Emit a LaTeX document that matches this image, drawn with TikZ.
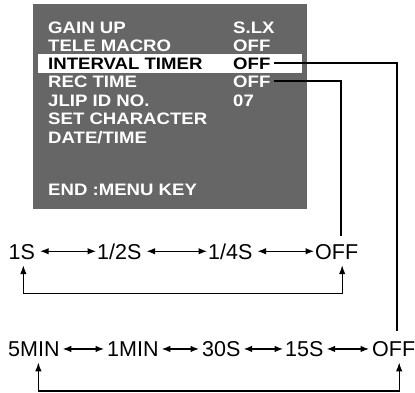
\documentclass[tikz,border=0pt]{standalone}
\usepackage{fontspec}
\setmainfont{Liberation Sans}
\newfontfamily\menufont[FakeStretch=1.12]{Liberation Sans Bold}
\usetikzlibrary{arrows.meta}
\definecolor{menugray}{RGB}{102,102,102}
\begin{document}
\begin{tikzpicture}[x=1pt,y=-1pt,
  menu/.style={anchor=base west,inner sep=0pt,text height=12pt,text depth=0pt,
    font=\menufont\fontsize{16.6}{18}\selectfont,text=white},
  hl/.style={menu,text=black},
  val/.style={anchor=base west,inner sep=0pt,text height=15.5pt,text depth=0pt,
    font=\fontsize{21.5}{24}\selectfont},
  dbl/.style={{Latex[length=8.5pt,width=6.5pt]}-{Latex[length=8.5pt,width=6.5pt]},line width=1.1pt},
  loopar/.style={{Latex[length=9pt,width=6.5pt]}-{Latex[length=9pt,width=6.5pt]},line width=1.2pt},
  conn/.style={line width=1.8pt}]
\useasboundingbox (0,0) rectangle (415,392);
% menu screen
\fill[menugray] (33,4) rectangle (307,209);
\fill[white] (38,54) rectangle (302,73);
\node[menu] (l1) at (48,33.3) {GAIN UP};
\node[menu] (v1) at (233,33.3) {S.LX};
\node[menu] (l2) at (48,51) {TELE MACRO};
\node[menu] (v2) at (233,51) {OFF};
\node[hl] (l3) at (48,69) {INTERVAL TIMER};
\node[hl] (vint) at (233,69) {OFF};
\node[menu] (l4) at (48,87.3) {REC TIME};
\node[menu] (vrec) at (233,87.3) {OFF};
\node[menu] (l5) at (48,106) {JLIP ID NO.};
\node[menu] (v5) at (233,106) {07};
\node[menu] (l6) at (48,124) {SET CHARACTER};
\node[menu] (l7) at (48,143.3) {DATE/TIME};
\node[menu] (l8) at (48,195.7) {END :MENU KEY};
% top row
\node[val] (s1) at (8.5,259) {1S};
\node[val] (s2) at (97,259) {1/2S};
\node[val] (s4) at (208,259) {1/4S};
\node[val] (o1) at (315,259) {OFF};
\draw[dbl] ([xshift=5pt]s1.east) -- ([xshift=-1pt]s2.west);
\draw[dbl] ([xshift=5pt]s2.east) -- ([xshift=-1pt]s4.west);
\draw[dbl] ([xshift=5pt]s4.east) -- ([xshift=-1pt]o1.west);
\draw[loopar] ([xshift=1.5pt,yshift=-6pt]s1.south) -- ++(0,-28pt) -| ([xshift=5.5pt,yshift=-6pt]o1.south);
% bottom row
\node[val] (m5) at (8,356.7) {5MIN};
\node[val] (m1) at (107,356.7) {1MIN};
\node[val] (s30) at (202,356.7) {30S};
\node[val] (s15) at (285,356.7) {15S};
\node[val] (o2) at (372,356.7) {OFF};
\draw[dbl] ([xshift=3pt]m5.east) -- ([xshift=-3pt]m1.west);
\draw[dbl] ([xshift=3pt]m1.east) -- ([xshift=-3pt]s30.west);
\draw[dbl] ([xshift=3pt]s30.east) -- ([xshift=-2pt]s15.west);
\draw[dbl] ([xshift=3pt]s15.east) -- ([xshift=-3pt]o2.west);
\draw[loopar] ([xshift=4.5pt,yshift=-5.5pt]m5.south) -- ++(0,-28.5pt) -| ([xshift=5.5pt,yshift=-5.5pt]o2.south);
% connectors from menu
\draw[conn] ([xshift=3pt]vint.east) -| ([xshift=3pt,yshift=10pt]o2.north);
\draw[conn] ([xshift=3pt]vrec.east) -| ([xshift=4pt,yshift=7pt]o1.north);
\end{tikzpicture}
\end{document}
